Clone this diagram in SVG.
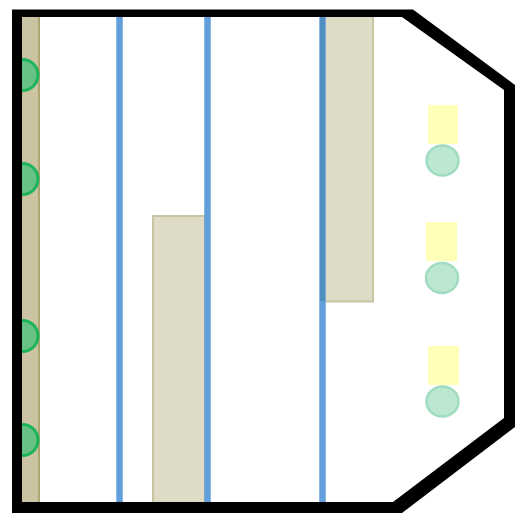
<svg xmlns="http://www.w3.org/2000/svg" width="522" height="521" viewBox="0 0 522 521">
<defs><clipPath id="inside"><rect x="22" y="17" width="30" height="485"/></clipPath></defs>
<style>
.tan{fill:#dedbc6;stroke:#c8c3a0;stroke-width:2}
.pipe{stroke:#639fdb;stroke-width:6.500;fill:none}
.pipe2{stroke:#4f8fc2;stroke-width:5;fill:none}
.yel{fill:#ffffb8}
.dot{fill:#bce8d2;stroke:#9fdcc0;stroke-width:2.500}
.grn{fill:#68c286;stroke:#1fb35c;stroke-width:3}
</style>
<rect width="522" height="521" fill="#fff"/>
<g id="strip"><rect x="22" y="17" width="17" height="486" fill="#cac4a2"/><line x1="39" y1="17" x2="39" y2="503" stroke="#aca673" stroke-width="2"/></g>
<g id="panels">
<rect class="tan" x="153" y="216" width="52" height="288"/>
<rect class="tan" x="322" y="16" width="51" height="285.500"/>
</g>
<g id="pipes">
<line class="pipe" x1="119.500" y1="16" x2="119.500" y2="503"/>
<line class="pipe" x1="207.500" y1="16" x2="207.500" y2="503"/>
<line class="pipe" x1="322.500" y1="16" x2="322.500" y2="503"/>
<line class="pipe2" x1="322.500" y1="16" x2="322.500" y2="301"/>
</g>
<g id="yellow">
<rect class="yel" x="428" y="105" width="30" height="39"/>
<rect class="yel" x="426" y="222" width="31" height="39"/>
<rect class="yel" x="428" y="346" width="31" height="39"/>
</g>
<g id="dots">
<ellipse class="dot" cx="442.500" cy="160.500" rx="16" ry="15"/>
<ellipse class="dot" cx="442" cy="278" rx="16" ry="15"/>
<ellipse class="dot" cx="442.500" cy="401.500" rx="16" ry="15"/>
</g>
<g id="sensors" clip-path="url(#inside)">
<circle class="grn" cx="22.500" cy="75" r="15.500"/>
<circle class="grn" cx="22.500" cy="179" r="15.500"/>
<circle class="grn" cx="22.500" cy="336" r="15.500"/>
<circle class="grn" cx="22.500" cy="440" r="15.500"/>
</g>
<path id="outline" fill="#000" fill-rule="evenodd" d="M12 9.500H413L515 85V427L402 513H12ZM22 17V502H393L504 418V90L402 17Z"/>
</svg>
